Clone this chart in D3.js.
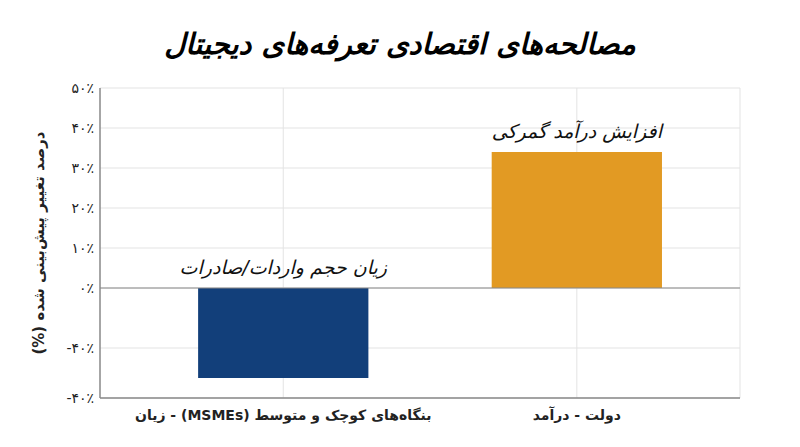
<!DOCTYPE html>
<html><head><meta charset="utf-8">
<script src="https://d3js.org/d3.v7.min.js"></script>
<style>body{margin:0;background:#fff} text{unicode-bidi:plaintext}</style>
</head><body>
<script>
const categories = ['بنگاه‌های کوچک و متوسط (MSMEs) - زیان', 'دولت - درآمد']
const values = [-22.5, 34]
const notes = ['زیان حجم واردات/صادرات', 'افزایش درآمد گمرکی']
const colors = ['#123f7a', '#e29a23']
const tickValues = [50, 40, 30, 20, 10, 0, -15, -27.5]
const tickLabels = ['۵۰٪', '۴۰٪', '۳۰٪', '۲۰٪', '۱۰٪', '۰٪', '-۴۰٪', '-۴۰٪']

const W = 800, H = 447
const svg = d3.select('body').append('svg').attr('width', W).attr('height', H)
const fa = "'DejaVu Sans', sans-serif"

const x = d3.scaleBand().domain(categories).range([100, 740]).paddingInner(0.42).paddingOuter(0.3).align(0.557)
const y = d3.scaleLinear().domain([-27.5, 50]).range([398, 88])

// grid
svg.append('g').selectAll('line').data(tickValues).enter().append('line')
	.attr('x1', 100).attr('x2', 740).attr('y1', d => y(d)).attr('y2', d => y(d))
	.attr('stroke', '#e3e3e3')
svg.append('g').selectAll('line').data(categories).enter().append('line')
	.attr('x1', d => x(d) + x.bandwidth()/2).attr('x2', d => x(d) + x.bandwidth()/2)
	.attr('y1', 88).attr('y2', 398).attr('stroke', '#e3e3e3')
svg.append('line').attr('x1', 740).attr('x2', 740).attr('y1', 88).attr('y2', 398).attr('stroke', '#e3e3e3')

svg.selectAll('rect.bar').data(values).enter().append('rect')
	.attr('x', (d, i) => x(categories[i]))
	.attr('width', x.bandwidth())
	.attr('y', d => y(Math.max(0, d)))
	.attr('height', d => Math.abs(y(d) - y(0)))
	.attr('fill', (d, i) => colors[i])

// zero line and axes
svg.append('line').attr('x1', 100).attr('x2', 740).attr('y1', y(0)).attr('y2', y(0)).attr('stroke', '#888')
svg.append('line').attr('x1', 100).attr('x2', 100).attr('y1', 88).attr('y2', 398).attr('stroke', '#888').attr('stroke-width', 1.5)
svg.append('line').attr('x1', 100).attr('x2', 740).attr('y1', 398).attr('y2', 398).attr('stroke', '#888').attr('stroke-width', 1.5)

svg.append('g').selectAll('text').data(tickValues).enter().append('text')
	.attr('x', 94).attr('y', d => y(d) + 5).attr('text-anchor', 'end')
	.style('font-family', fa).style('font-size', '14px').style('fill', '#222')
	.text((d, i) => tickLabels[i])

svg.append('g').selectAll('text').data(categories).enter().append('text')
	.attr('direction', 'rtl')
	.attr('x', d => x(d) + x.bandwidth()/2).attr('y', 420).attr('text-anchor', 'middle')
	.style('font-family', fa).style('font-size', '14px').style('font-weight', 'bold').style('fill', '#222')
	.text(d => d)

svg.append('g').selectAll('text').data(values).enter().append('text')
	.attr('direction', 'rtl')
	.attr('x', (d, i) => x(categories[i]) + x.bandwidth()/2)
	.attr('y', d => y(Math.max(0, d)) - 14).attr('text-anchor', 'middle')
	.style('font-family', fa).style('font-size', '19px').style('font-style', 'italic').style('fill', '#111')
	.text((d, i) => notes[i])

svg.append('text').attr('direction', 'rtl')
	.attr('transform', 'translate(44,243) rotate(-90)').attr('text-anchor', 'middle')
	.style('font-family', fa).style('font-size', '15px').style('font-weight', 'bold').style('fill', '#222')
	.text('درصد تغییر پیش‌بینی شده (%)')

svg.append('text').attr('direction', 'rtl')
	.attr('x', 400).attr('y', 54).attr('text-anchor', 'middle')
	.style('font-family', fa).style('font-size', '29px').style('font-weight', 'bold').style('font-style', 'italic').style('fill', '#000')
	.text('مصالحه‌های اقتصادی تعرفه‌های دیجیتال')
</script>
</body></html>
